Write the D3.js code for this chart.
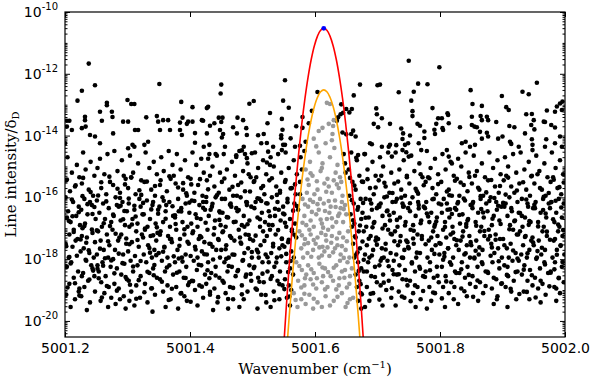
<!DOCTYPE html>
<html lang="en">
<head>
<meta charset="utf-8">
<title>Line intensity vs wavenumber</title>
<script src="https://cdn.jsdelivr.net/npm/d3@7"></script>
<style>
body { margin: 0; background: #fff; }
text { font-family: "DejaVu Sans", sans-serif; }
.lbl { font-family: "DejaVu Serif", serif; }
</style>
</head>
<body>
<script>
// every line is [wavenumber (cm-1), log10(intensity / delta_D)]
// sparse strong lines
var strongLines = [
  [5001.238,-11.67],[5001.248,-12.37],[5001.227,-12.55],[5001.220,-12.87],[5001.351,-12.33],[5001.300,-12.85],
  [5001.306,-12.98],[5001.311,-12.98],[5001.267,-12.94],[5001.267,-13.02],[5001.256,-13.23],[5001.275,-13.23],
  [5001.276,-13.40],[5001.386,-12.91],[5001.404,-13.08],[5001.232,-13.39],[5001.232,-13.50],[5001.233,-13.71],
  [5001.203,-13.52],[5001.207,-13.52],[5001.259,-13.52],[5001.293,-13.55],[5001.301,-13.55],[5001.330,-13.41],
  [5001.347,-13.37],[5001.349,-13.55],[5001.357,-13.50],[5001.365,-13.50],[5001.388,-13.42],[5001.384,-13.58],
  [5001.397,-13.55],[5001.404,-13.55],[5001.203,-13.71],[5001.211,-13.82],[5001.227,-13.76],[5001.240,-13.98],
  [5001.248,-14.03],[5001.256,-14.25],[5001.277,-13.93],[5001.312,-13.82],[5001.317,-13.82],[5001.352,-13.82],
  [5001.368,-13.82],[5001.384,-13.82],[5001.387,-13.98],[5001.395,-13.62],[5001.200,-14.25],[5001.301,-14.41],
  [5001.308,-14.30],[5001.311,-14.36],[5001.327,-14.30],[5001.333,-14.20],
  [5001.552,-12.21],[5001.450,-12.35],[5001.449,-12.64],[5001.502,-12.88],[5001.495,-12.97],[5001.549,-12.87],
  [5001.558,-13.10],[5001.429,-13.07],[5001.427,-13.11],[5001.528,-13.27],[5001.419,-13.50],[5001.421,-13.52],
  [5001.446,-13.42],[5001.452,-13.42],[5001.450,-13.56],[5001.476,-13.42],[5001.485,-13.50],[5001.547,-13.46],
  [5001.432,-13.68],[5001.439,-13.60],[5001.524,-13.60],[5001.469,-13.73],[5001.490,-13.76],[5001.448,-13.82],
  [5001.453,-13.95],[5001.451,-14.06],[5001.456,-14.36],[5001.570,-13.70],[5001.548,-13.81],[5001.427,-13.93],
  [5001.475,-13.93],[5001.491,-13.98],[5001.509,-13.99],[5001.518,-13.95],[5001.546,-13.99],[5001.546,-14.09],
  [5001.561,-14.09],[5001.408,-13.92],[5001.408,-14.23],[5001.422,-14.36],[5001.431,-14.30],[5001.441,-14.60],
  [5001.431,-14.60],[5001.486,-14.36],[5001.483,-14.48],[5001.488,-14.60],[5001.491,-14.73],[5001.499,-14.57],
  [5001.474,-14.64],[5001.474,-14.69],[5001.514,-14.25],[5001.523,-14.24],[5001.533,-14.36],[5001.525,-14.52],
  [5001.523,-14.87],[5001.528,-14.95],[5001.549,-14.30],[5001.552,-14.30],[5001.547,-14.47],[5001.568,-14.36],
  [5001.576,-14.33],[5001.580,-13.40],[5001.580,-13.75],[5001.604,-12.59],[5001.637,-13.41],[5001.635,-13.52],
  [5001.750,-11.58],[5001.799,-11.79],[5001.672,-12.35],[5001.700,-12.37],[5001.704,-12.35],[5001.765,-12.32],
  [5001.780,-12.34],[5001.734,-12.60],[5001.758,-12.58],[5001.662,-12.70],[5001.754,-12.87],[5001.698,-13.12],
  [5001.699,-13.31],[5001.707,-13.44],[5001.694,-13.62],[5001.701,-13.73],[5001.720,-13.62],[5001.756,-13.21],
  [5001.756,-13.37],[5001.764,-13.62],[5001.768,-13.68],[5001.788,-13.11],[5001.797,-13.44],[5001.803,-13.44],
  [5001.794,-13.62],[5001.804,-13.76],[5001.805,-13.82],[5001.812,-13.28],[5001.738,-13.77],[5001.741,-13.93],
  [5001.752,-14.00],[5001.775,-13.87],[5001.775,-14.08],[5001.791,-13.81],[5001.792,-13.95],[5001.642,-12.99],
  [5001.650,-13.14],[5001.659,-13.14],[5001.655,-13.25],[5001.645,-13.26],[5001.641,-13.31],[5001.650,-13.96],
  [5001.658,-13.95],[5001.661,-13.84],[5001.665,-14.03],[5001.688,-14.25],[5001.691,-14.28],[5001.680,-14.60],
  [5001.669,-14.63],[5001.666,-14.72],[5001.707,-14.36],[5001.720,-14.30],[5001.718,-14.36],[5001.730,-14.31],
  [5001.740,-14.11],[5001.749,-14.25],[5001.744,-14.30],[5001.723,-14.68],[5001.740,-14.47],[5001.746,-14.54],
  [5001.750,-14.68],[5001.766,-14.25],[5001.770,-14.47],
  [5001.955,-12.29],[5001.849,-12.53],[5001.932,-12.58],[5001.942,-12.66],[5001.899,-12.72],[5001.852,-12.98],
  [5001.867,-13.04],[5001.906,-13.08],[5001.910,-13.17],[5001.992,-12.96],[5001.996,-12.90],[5001.987,-13.06],
  [5001.984,-13.23],[5001.995,-13.17],[5001.971,-13.19],[5001.938,-13.31],[5001.947,-13.30],[5001.851,-13.39],
  [5001.865,-13.37],[5001.875,-13.39],[5001.877,-13.50],[5001.867,-13.50],[5001.813,-13.33],[5001.814,-13.60],
  [5001.890,-13.56],[5001.950,-13.50],[5001.966,-13.55],[5001.968,-13.56],[5001.911,-13.69],[5001.919,-13.73],
  [5001.832,-13.73],[5001.851,-13.66],[5001.855,-13.71],[5001.859,-13.73],[5001.946,-13.66],[5001.951,-13.80],
  [5001.978,-13.66],[5001.984,-13.74],[5001.864,-13.88],[5001.875,-13.91],[5001.877,-14.03],[5001.893,-14.10],
  [5001.900,-14.03],[5001.936,-13.93],[5001.947,-14.12],[5001.992,-14.03],[5001.970,-14.12],[5001.835,-14.25],
  [5001.841,-14.20],[5001.848,-14.36],[5001.856,-14.30],[5001.867,-14.10],[5001.912,-14.20],[5001.914,-14.27],
  [5001.926,-14.36],[5001.948,-14.30],[5001.948,-14.47],[5001.984,-14.25],[5001.995,-14.36],[5001.968,-14.36],
  [5001.811,-14.47],[5001.814,-14.68],[5001.819,-14.90]
];

// the crowded weak lines, strip by strip
var weakLines = [
  [5001.204,-14.7],[5001.219,-14.95],[5001.211,-15.2],[5001.202,-15.45],[5001.223,-15.35],[5001.208,-15.8],[5001.216,-15.65],[5001.201,-16.0],[5001.213,-16.15],[5001.222,-16.3],[5001.205,-16.45],[5001.218,-16.6],[5001.209,-16.8],[5001.224,-16.9],[5001.203,-16.65],[5001.214,-17.05],[5001.207,-17.2],[5001.220,-17.35],[5001.201,-17.5],[5001.212,-17.6],[5001.225,-17.75],[5001.206,-17.95],[5001.217,-17.4],[5001.210,-18.1],[5001.203,-18.25],[5001.221,-18.4],[5001.214,-18.6],[5001.207,-18.8],[5001.223,-18.95],[5001.202,-19.15],[5001.216,-19.3],[5001.209,-19.55],[5001.222,-19.05],
  [5001.229,-14.55],[5001.241,-14.85],[5001.233,-15.1],[5001.247,-15.3],[5001.227,-15.55],[5001.238,-15.75],[5001.245,-15.95],[5001.231,-16.05],[5001.243,-16.25],[5001.226,-16.4],[5001.236,-16.55],[5001.249,-16.7],[5001.232,-16.85],[5001.240,-16.15],[5001.228,-17.0],[5001.244,-17.15],[5001.235,-17.3],[5001.248,-17.45],[5001.230,-17.65],[5001.239,-17.8],[5001.246,-17.95],[5001.227,-17.25],[5001.234,-18.05],[5001.242,-18.2],[5001.229,-18.45],[5001.247,-18.55],[5001.237,-18.7],[5001.231,-18.9],[5001.244,-18.3],[5001.226,-19.2],[5001.240,-19.4],[5001.235,-19.65],
  [5001.256,-14.75],[5001.268,-14.6],[5001.252,-15.05],[5001.263,-15.25],[5001.272,-15.5],[5001.258,-15.7],[5001.266,-15.9],[5001.251,-16.1],[5001.261,-16.2],[5001.270,-16.35],[5001.255,-16.5],[5001.264,-16.7],[5001.274,-16.8],[5001.259,-16.95],[5001.253,-17.1],[5001.267,-17.2],[5001.257,-17.4],[5001.271,-17.55],[5001.262,-17.7],[5001.251,-17.85],[5001.269,-17.95],[5001.260,-18.1],[5001.273,-18.25],[5001.254,-18.4],[5001.265,-18.55],[5001.258,-18.75],[5001.270,-18.9],[5001.252,-18.2],[5001.263,-19.1],[5001.257,-19.35],[5001.269,-19.55],[5001.274,-19.25],
  [5001.279,-14.5],[5001.291,-14.8],[5001.284,-15.15],[5001.297,-15.4],[5001.277,-15.6],[5001.288,-15.85],[5001.294,-15.3],[5001.281,-16.0],[5001.292,-16.15],[5001.286,-16.3],[5001.299,-16.45],[5001.278,-16.6],[5001.289,-16.75],[5001.296,-16.9],[5001.283,-16.25],[5001.276,-17.05],[5001.290,-17.2],[5001.285,-17.4],[5001.298,-17.5],[5001.280,-17.7],[5001.293,-17.85],[5001.287,-17.3],[5001.277,-18.0],[5001.295,-18.15],[5001.283,-18.3],[5001.290,-18.5],[5001.299,-18.65],[5001.279,-18.8],[5001.286,-18.95],[5001.294,-19.2],[5001.281,-19.45],[5001.297,-19.6],[5001.288,-19.3],
  [5001.304,-14.65],[5001.317,-14.9],[5001.309,-15.2],[5001.322,-15.45],[5001.301,-15.7],[5001.313,-15.9],[5001.306,-15.35],[5001.319,-16.05],[5001.302,-16.2],[5001.311,-16.4],[5001.324,-16.55],[5001.308,-16.7],[5001.316,-16.85],[5001.321,-16.3],[5001.303,-16.95],[5001.314,-17.1],[5001.325,-17.3],[5001.307,-17.45],[5001.318,-17.6],[5001.301,-17.75],[5001.312,-17.9],[5001.323,-17.2],[5001.305,-18.05],[5001.316,-18.2],[5001.309,-18.4],[5001.321,-18.55],[5001.302,-18.7],[5001.314,-18.85],[5001.306,-19.05],[5001.320,-19.25],[5001.311,-19.5],[5001.303,-19.35],
  [5001.329,-14.55],[5001.342,-14.85],[5001.335,-15.05],[5001.347,-15.25],[5001.327,-15.5],[5001.338,-15.75],[5001.344,-15.95],[5001.331,-16.1],[5001.340,-16.25],[5001.349,-16.4],[5001.326,-16.55],[5001.336,-16.7],[5001.345,-16.85],[5001.332,-16.95],[5001.341,-16.15],[5001.328,-17.05],[5001.337,-17.25],[5001.346,-17.4],[5001.333,-17.55],[5001.343,-17.7],[5001.326,-17.85],[5001.339,-17.95],[5001.348,-17.15],[5001.330,-18.1],[5001.341,-18.3],[5001.335,-18.45],[5001.347,-18.6],[5001.328,-18.8],[5001.338,-18.95],[5001.344,-19.15],[5001.332,-19.4],[5001.340,-19.7],
  [5001.354,-14.7],[5001.366,-14.5],[5001.372,-14.95],[5001.358,-15.15],[5001.369,-15.4],[5001.352,-15.6],[5001.363,-15.8],[5001.374,-15.3],[5001.356,-16.0],[5001.367,-16.15],[5001.351,-16.3],[5001.361,-16.45],[5001.373,-16.6],[5001.357,-16.8],[5001.368,-16.95],[5001.362,-16.25],[5001.353,-17.1],[5001.365,-17.25],[5001.371,-17.45],[5001.359,-17.6],[5001.350,-17.8],[5001.364,-17.95],[5001.370,-17.35],[5001.355,-18.05],[5001.367,-18.2],[5001.360,-18.4],[5001.373,-18.5],[5001.352,-18.65],[5001.364,-18.85],[5001.357,-19.05],[5001.369,-19.3],[5001.361,-19.55],
  [5001.379,-14.6],[5001.392,-14.8],[5001.385,-15.1],[5001.397,-15.35],[5001.377,-15.55],[5001.389,-15.75],[5001.395,-15.95],[5001.381,-16.05],[5001.393,-16.2],[5001.386,-16.35],[5001.399,-16.5],[5001.376,-16.65],[5001.388,-16.8],[5001.396,-16.95],[5001.382,-16.45],[5001.378,-17.05],[5001.391,-17.2],[5001.384,-17.35],[5001.398,-17.5],[5001.380,-17.7],[5001.393,-17.85],[5001.387,-17.95],[5001.376,-18.1],[5001.394,-18.25],[5001.383,-18.4],[5001.390,-18.6],[5001.399,-18.75],[5001.378,-18.9],[5001.386,-19.1],[5001.395,-19.35],[5001.381,-19.6],[5001.391,-19.2],
  [5001.404,-14.55],[5001.418,-14.75],[5001.410,-14.95],[5001.422,-15.2],[5001.401,-15.4],[5001.413,-15.6],[5001.407,-15.85],[5001.420,-15.95],[5001.403,-16.1],[5001.415,-16.25],[5001.424,-16.4],[5001.409,-16.55],[5001.417,-16.7],[5001.402,-16.85],[5001.412,-16.95],[5001.421,-16.15],[5001.405,-17.1],[5001.416,-17.25],[5001.423,-17.45],[5001.408,-17.6],[5001.419,-17.75],[5001.401,-17.9],[5001.414,-17.35],[5001.406,-18.05],[5001.418,-18.2],[5001.411,-18.35],[5001.424,-18.5],[5001.403,-18.7],[5001.415,-18.85],[5001.408,-19.0],[5001.421,-19.25],[5001.412,-19.5],
  [5001.429,-14.75],[5001.443,-14.65],[5001.436,-15.0],[5001.448,-15.2],[5001.427,-15.45],[5001.439,-15.65],[5001.446,-15.85],[5001.432,-15.3],[5001.441,-16.0],[5001.426,-16.15],[5001.435,-16.3],[5001.447,-16.45],[5001.430,-16.6],[5001.440,-16.75],[5001.449,-16.9],[5001.433,-16.4],[5001.428,-17.05],[5001.438,-17.2],[5001.445,-17.35],[5001.431,-17.5],[5001.442,-17.7],[5001.427,-17.85],[5001.448,-17.95],[5001.436,-17.6],[5001.429,-18.1],[5001.441,-18.25],[5001.434,-18.45],[5001.447,-18.6],[5001.426,-18.8],[5001.439,-18.95],[5001.432,-19.15],[5001.444,-19.4],[5001.437,-19.65],
  [5001.454,-14.6],[5001.467,-14.85],[5001.459,-15.1],[5001.472,-15.3],[5001.451,-15.5],[5001.463,-15.75],[5001.469,-15.95],[5001.456,-16.05],[5001.465,-16.2],[5001.474,-16.35],[5001.452,-16.5],[5001.461,-16.65],[5001.470,-16.8],[5001.457,-16.95],[5001.466,-16.3],[5001.453,-17.1],[5001.464,-17.25],[5001.471,-17.4],[5001.458,-17.55],[5001.450,-17.7],[5001.468,-17.85],[5001.462,-17.95],[5001.455,-18.1],[5001.467,-18.25],[5001.460,-18.4],[5001.473,-18.55],[5001.452,-18.7],[5001.464,-18.9],[5001.457,-19.1],[5001.469,-19.3],[5001.461,-19.6],
  [5001.479,-14.5],[5001.492,-14.9],[5001.485,-15.15],[5001.497,-15.35],[5001.477,-15.6],[5001.488,-15.8],[5001.494,-15.25],[5001.481,-16.0],[5001.490,-16.15],[5001.498,-16.3],[5001.476,-16.45],[5001.486,-16.6],[5001.495,-16.75],[5001.483,-16.9],[5001.491,-16.25],[5001.478,-17.05],[5001.489,-17.2],[5001.496,-17.35],[5001.482,-17.5],[5001.493,-17.65],[5001.487,-17.8],[5001.499,-17.95],[5001.480,-17.3],[5001.484,-18.05],[5001.495,-18.2],[5001.477,-18.35],[5001.490,-18.5],[5001.498,-18.7],[5001.483,-18.85],[5001.492,-19.05],[5001.486,-19.3],[5001.479,-19.55],
  [5001.504,-14.55],[5001.517,-14.8],[5001.509,-15.05],[5001.522,-15.25],[5001.502,-15.5],[5001.514,-15.7],[5001.519,-15.9],[5001.506,-15.35],[5001.511,-16.05],[5001.524,-16.2],[5001.503,-16.35],[5001.515,-16.5],[5001.508,-16.65],[5001.520,-16.8],[5001.512,-16.95],[5001.505,-16.15],[5001.517,-17.1],[5001.523,-17.25],[5001.501,-17.4],[5001.513,-17.55],[5001.507,-17.7],[5001.521,-17.85],[5001.510,-17.95],[5001.516,-18.1],[5001.503,-18.25],[5001.524,-18.4],[5001.509,-18.6],[5001.518,-18.75],[5001.505,-18.95],[5001.514,-19.15],[5001.522,-19.4],[5001.508,-19.6],
  [5001.529,-14.7],[5001.541,-14.6],[5001.534,-15.0],[5001.546,-15.2],[5001.527,-15.45],[5001.538,-15.65],[5001.544,-15.85],[5001.531,-16.0],[5001.540,-16.15],[5001.549,-16.3],[5001.526,-16.45],[5001.536,-16.6],[5001.545,-16.75],[5001.532,-16.9],[5001.542,-16.4],[5001.528,-17.05],[5001.537,-17.2],[5001.547,-17.35],[5001.533,-17.5],[5001.543,-17.65],[5001.530,-17.8],[5001.539,-17.95],[5001.548,-17.55],[5001.526,-18.1],[5001.535,-18.25],[5001.544,-18.4],[5001.531,-18.55],[5001.540,-18.7],[5001.548,-18.85],[5001.534,-19.05],[5001.543,-19.3],[5001.529,-19.55],
  [5001.553,-14.55],[5001.566,-14.8],[5001.558,-15.05],[5001.571,-15.25],[5001.552,-15.5],[5001.563,-15.7],[5001.569,-15.9],[5001.556,-16.05],[5001.567,-16.2],[5001.573,-16.4],[5001.551,-16.55],[5001.560,-16.7],[5001.568,-16.85],[5001.554,-16.95],[5001.563,-17.1],[5001.570,-17.3],[5001.557,-17.45],[5001.551,-17.6],[5001.562,-17.75],[5001.566,-17.95],[5001.554,-18.1],[5001.560,-18.3],[5001.565,-18.5],[5001.552,-18.65],[5001.558,-18.85],[5001.562,-19.0],[5001.555,-19.25],[5001.560,-19.5],
  [5001.577,-14.7],[5001.583,-14.5],[5001.579,-15.1],[5001.576,-15.5],[5001.576,-15.9],[5001.585,-14.2],[5001.590,-13.6],[5001.595,-13.2],
  [5001.646,-14.6],[5001.649,-15.2],[5001.644,-13.9],[5001.648,-14.9],
  [5001.658,-14.55],[5001.667,-14.8],[5001.654,-15.1],[5001.671,-15.3],[5001.660,-15.5],[5001.665,-15.75],[5001.655,-15.95],[5001.673,-16.05],[5001.662,-16.2],[5001.668,-16.4],[5001.657,-16.55],[5001.674,-16.7],[5001.663,-16.85],[5001.659,-16.95],[5001.670,-17.1],[5001.665,-17.3],[5001.661,-17.5],[5001.672,-17.65],[5001.666,-17.85],[5001.663,-17.95],[5001.669,-18.1],[5001.674,-18.3],[5001.665,-18.5],[5001.671,-18.7],[5001.667,-18.9],[5001.673,-19.1],[5001.669,-19.35],[5001.674,-19.6],
  [5001.679,-14.6],[5001.692,-14.85],[5001.684,-15.1],[5001.697,-15.3],[5001.677,-15.5],[5001.688,-15.7],[5001.694,-15.9],[5001.681,-16.05],[5001.690,-16.2],[5001.699,-16.35],[5001.676,-16.5],[5001.686,-16.65],[5001.695,-16.8],[5001.682,-16.95],[5001.691,-16.4],[5001.678,-17.1],[5001.689,-17.25],[5001.697,-17.4],[5001.683,-17.55],[5001.693,-17.7],[5001.680,-17.85],[5001.687,-17.95],[5001.698,-17.3],[5001.685,-18.1],[5001.696,-18.25],[5001.678,-18.4],[5001.690,-18.55],[5001.699,-18.75],[5001.683,-18.9],[5001.693,-19.1],[5001.687,-19.35],[5001.680,-19.55],
  [5001.704,-14.7],[5001.717,-14.55],[5001.709,-15.0],[5001.722,-15.2],[5001.702,-15.45],[5001.713,-15.65],[5001.719,-15.85],[5001.706,-15.3],[5001.711,-16.0],[5001.724,-16.15],[5001.703,-16.3],[5001.715,-16.45],[5001.708,-16.6],[5001.720,-16.75],[5001.712,-16.9],[5001.705,-16.2],[5001.717,-17.05],[5001.723,-17.2],[5001.701,-17.35],[5001.713,-17.5],[5001.707,-17.65],[5001.721,-17.8],[5001.710,-17.95],[5001.716,-18.05],[5001.703,-18.2],[5001.724,-18.35],[5001.709,-18.5],[5001.718,-18.7],[5001.705,-18.85],[5001.714,-19.0],[5001.722,-19.25],[5001.708,-19.5],
  [5001.729,-14.55],[5001.742,-14.8],[5001.735,-15.1],[5001.747,-15.3],[5001.727,-15.55],[5001.738,-15.75],[5001.744,-15.95],[5001.731,-16.05],[5001.740,-16.2],[5001.749,-16.35],[5001.726,-16.5],[5001.736,-16.65],[5001.745,-16.8],[5001.732,-16.95],[5001.741,-16.3],[5001.728,-17.1],[5001.737,-17.25],[5001.746,-17.4],[5001.733,-17.55],[5001.743,-17.7],[5001.730,-17.85],[5001.739,-17.95],[5001.748,-17.45],[5001.726,-18.05],[5001.735,-18.2],[5001.744,-18.35],[5001.731,-18.5],[5001.740,-18.65],[5001.748,-18.85],[5001.734,-19.05],[5001.743,-19.25],[5001.729,-19.5],
  [5001.754,-14.65],[5001.767,-14.9],[5001.759,-15.15],[5001.772,-15.35],[5001.751,-15.55],[5001.763,-15.8],[5001.769,-15.25],[5001.756,-16.0],[5001.765,-16.15],[5001.774,-16.3],[5001.752,-16.45],[5001.761,-16.6],[5001.770,-16.75],[5001.757,-16.9],[5001.766,-16.25],[5001.753,-17.05],[5001.764,-17.2],[5001.771,-17.35],[5001.758,-17.5],[5001.750,-17.65],[5001.768,-17.8],[5001.762,-17.95],[5001.755,-18.1],[5001.767,-18.25],[5001.760,-18.4],[5001.773,-18.55],[5001.752,-18.7],[5001.764,-18.9],[5001.757,-19.1],[5001.769,-19.3],[5001.761,-19.55],
  [5001.779,-14.5],[5001.792,-14.75],[5001.785,-15.05],[5001.797,-15.25],[5001.777,-15.5],[5001.788,-15.7],[5001.794,-15.9],[5001.781,-15.35],[5001.790,-16.05],[5001.798,-16.2],[5001.776,-16.35],[5001.786,-16.5],[5001.795,-16.65],[5001.783,-16.8],[5001.791,-16.95],[5001.778,-16.15],[5001.789,-17.1],[5001.796,-17.25],[5001.782,-17.4],[5001.793,-17.55],[5001.787,-17.7],[5001.799,-17.85],[5001.780,-17.95],[5001.784,-18.1],[5001.795,-18.25],[5001.777,-18.4],[5001.790,-18.6],[5001.798,-18.75],[5001.783,-18.9],[5001.792,-19.1],[5001.786,-19.35],[5001.779,-19.6],
  [5001.804,-14.6],[5001.817,-14.85],[5001.809,-15.1],[5001.822,-15.3],[5001.802,-15.5],[5001.814,-15.75],[5001.819,-15.95],[5001.806,-16.05],[5001.811,-16.2],[5001.824,-16.35],[5001.803,-16.5],[5001.815,-16.65],[5001.808,-16.8],[5001.820,-16.95],[5001.812,-16.4],[5001.805,-17.05],[5001.817,-17.2],[5001.823,-17.35],[5001.801,-17.5],[5001.813,-17.65],[5001.807,-17.8],[5001.821,-17.95],[5001.810,-17.3],[5001.816,-18.1],[5001.803,-18.25],[5001.824,-18.4],[5001.809,-18.55],[5001.818,-18.75],[5001.805,-18.9],[5001.814,-19.1],[5001.822,-19.3],[5001.808,-19.55],
  [5001.829,-14.75],[5001.841,-14.55],[5001.834,-15.0],[5001.846,-15.2],[5001.827,-15.4],[5001.838,-15.6],[5001.844,-15.8],[5001.831,-15.95],[5001.840,-16.1],[5001.849,-16.25],[5001.826,-16.4],[5001.836,-16.55],[5001.845,-16.7],[5001.832,-16.85],[5001.842,-16.95],[5001.828,-16.2],[5001.837,-17.1],[5001.847,-17.25],[5001.833,-17.4],[5001.843,-17.55],[5001.830,-17.7],[5001.839,-17.85],[5001.848,-17.95],[5001.826,-17.55],[5001.835,-18.1],[5001.844,-18.25],[5001.831,-18.45],[5001.840,-18.6],[5001.848,-18.8],[5001.834,-18.95],[5001.843,-19.2],[5001.829,-19.45],
  [5001.854,-14.65],[5001.867,-14.9],[5001.859,-15.15],[5001.872,-15.35],[5001.851,-15.55],[5001.863,-15.75],[5001.869,-15.95],[5001.856,-15.3],[5001.865,-16.05],[5001.874,-16.2],[5001.852,-16.35],[5001.861,-16.5],[5001.870,-16.65],[5001.857,-16.8],[5001.866,-16.95],[5001.853,-16.15],[5001.864,-17.1],[5001.871,-17.25],[5001.858,-17.4],[5001.850,-17.55],[5001.868,-17.7],[5001.862,-17.85],[5001.855,-17.95],[5001.867,-18.1],[5001.860,-18.25],[5001.873,-18.4],[5001.852,-18.55],[5001.864,-18.75],[5001.857,-18.9],[5001.869,-19.1],[5001.861,-19.35],
  [5001.879,-14.55],[5001.892,-14.8],[5001.885,-15.05],[5001.897,-15.25],[5001.877,-15.45],[5001.888,-15.65],[5001.894,-15.85],[5001.881,-16.0],[5001.890,-16.15],[5001.898,-16.3],[5001.876,-16.45],[5001.886,-16.6],[5001.895,-16.75],[5001.883,-16.9],[5001.891,-16.4],[5001.878,-17.05],[5001.889,-17.2],[5001.896,-17.35],[5001.882,-17.5],[5001.893,-17.65],[5001.887,-17.8],[5001.899,-17.95],[5001.880,-17.25],[5001.884,-18.1],[5001.895,-18.3],[5001.877,-18.45],[5001.890,-18.65],[5001.898,-18.8],[5001.883,-18.95],[5001.892,-19.2],[5001.886,-19.45],
  [5001.904,-14.7],[5001.917,-14.6],[5001.909,-15.0],[5001.922,-15.2],[5001.902,-15.45],[5001.914,-15.65],[5001.919,-15.85],[5001.906,-15.3],[5001.911,-16.0],[5001.924,-16.15],[5001.903,-16.3],[5001.915,-16.45],[5001.908,-16.6],[5001.920,-16.75],[5001.912,-16.9],[5001.905,-16.2],[5001.917,-17.05],[5001.923,-17.2],[5001.901,-17.35],[5001.913,-17.5],[5001.907,-17.65],[5001.921,-17.8],[5001.910,-17.95],[5001.916,-18.05],[5001.903,-18.2],[5001.924,-18.4],[5001.909,-18.55],[5001.918,-18.7],[5001.905,-18.9],[5001.914,-19.05],[5001.922,-19.3],[5001.908,-19.55],
  [5001.929,-14.55],[5001.942,-14.85],[5001.935,-15.1],[5001.947,-15.3],[5001.927,-15.55],[5001.938,-15.75],[5001.944,-15.95],[5001.931,-16.05],[5001.940,-16.2],[5001.949,-16.35],[5001.926,-16.5],[5001.936,-16.65],[5001.945,-16.8],[5001.932,-16.95],[5001.941,-16.3],[5001.928,-17.1],[5001.937,-17.25],[5001.946,-17.4],[5001.933,-17.55],[5001.943,-17.7],[5001.930,-17.85],[5001.939,-17.95],[5001.948,-17.3],[5001.926,-18.05],[5001.935,-18.2],[5001.944,-18.35],[5001.931,-18.5],[5001.940,-18.7],[5001.948,-18.85],[5001.934,-19.05],[5001.943,-19.3],
  [5001.954,-14.65],[5001.967,-14.9],[5001.959,-15.15],[5001.972,-15.35],[5001.951,-15.55],[5001.963,-15.75],[5001.969,-15.95],[5001.956,-15.25],[5001.965,-16.05],[5001.974,-16.2],[5001.952,-16.35],[5001.961,-16.5],[5001.970,-16.65],[5001.957,-16.8],[5001.966,-16.95],[5001.953,-16.15],[5001.964,-17.1],[5001.971,-17.25],[5001.958,-17.4],[5001.950,-17.55],[5001.968,-17.7],[5001.962,-17.85],[5001.955,-17.95],[5001.967,-18.1],[5001.960,-18.3],[5001.973,-18.45],[5001.952,-18.6],[5001.964,-18.8],[5001.957,-18.95],[5001.969,-19.15],[5001.961,-19.4],
  [5001.979,-14.55],[5001.992,-14.8],[5001.985,-15.05],[5001.997,-15.25],[5001.977,-15.5],[5001.988,-15.7],[5001.994,-15.9],[5001.981,-15.35],[5001.990,-16.05],[5001.998,-16.2],[5001.976,-16.35],[5001.986,-16.5],[5001.995,-16.65],[5001.983,-16.8],[5001.991,-16.95],[5001.978,-16.15],[5001.989,-17.1],[5001.996,-17.25],[5001.982,-17.4],[5001.993,-17.55],[5001.987,-17.7],[5001.999,-17.85],[5001.980,-17.95],[5001.984,-18.1],[5001.995,-18.25],[5001.977,-18.4],[5001.990,-18.6],[5001.998,-18.75],[5001.983,-18.9],[5001.992,-19.1],[5001.986,-19.35]
];

// second pass over the crowded core of the band
var coreLines = [
  [5001.203,-15.42],[5001.217,-15.61],[5001.229,-15.37],[5001.241,-15.83],[5001.211,-16.07],[5001.236,-16.22],[5001.222,-16.48],[5001.247,-16.31],[5001.206,-16.76],[5001.231,-16.93],[5001.214,-17.12],[5001.243,-17.04],[5001.225,-17.36],[5001.202,-17.58],[5001.238,-17.71],[5001.219,-17.89],[5001.209,-18.14],[5001.233,-18.02],[5001.245,-18.37],[5001.227,-18.55],[5001.216,-18.78],[5001.204,-18.92],[5001.239,-18.66],[5001.223,-19.18],[5001.248,-19.05],[5001.212,-16.61],[5001.234,-17.47],[5001.228,-15.96],[5001.207,-17.93],[5001.244,-16.54],
  [5001.258,-15.51],[5001.271,-15.33],[5001.284,-15.72],[5001.296,-15.58],[5001.253,-15.94],[5001.266,-16.13],[5001.289,-16.27],[5001.277,-16.56],[5001.262,-16.84],[5001.293,-16.71],[5001.251,-17.07],[5001.281,-17.18],[5001.269,-17.42],[5001.298,-17.33],[5001.256,-17.66],[5001.286,-17.82],[5001.274,-18.04],[5001.261,-18.21],[5001.292,-18.13],[5001.279,-18.46],[5001.254,-18.62],[5001.297,-18.58],[5001.267,-18.87],[5001.283,-19.02],[5001.259,-19.24],[5001.288,-16.02],[5001.272,-16.93],[5001.264,-17.97],[5001.295,-16.44],[5001.252,-18.31],
  [5001.306,-15.36],[5001.319,-15.77],[5001.331,-15.49],[5001.344,-15.63],[5001.302,-16.04],[5001.325,-16.18],[5001.338,-16.39],[5001.313,-16.62],[5001.349,-16.53],[5001.307,-16.88],[5001.328,-17.01],[5001.341,-17.23],[5001.316,-17.38],[5001.303,-17.52],[5001.335,-17.64],[5001.346,-17.87],[5001.321,-18.06],[5001.309,-18.24],[5001.332,-18.41],[5001.343,-18.19],[5001.318,-18.68],[5001.304,-18.83],[5001.327,-19.07],[5001.339,-18.94],[5001.314,-19.28],[5001.347,-16.97],[5001.322,-15.92],[5001.336,-17.79],[5001.311,-16.27],[5001.342,-18.52],
  [5001.353,-15.45],[5001.367,-15.32],[5001.381,-15.68],[5001.394,-15.87],[5001.358,-16.11],[5001.372,-16.29],[5001.386,-16.46],[5001.399,-16.17],[5001.361,-16.69],[5001.377,-16.86],[5001.391,-17.03],[5001.352,-17.21],[5001.368,-17.35],[5001.383,-17.57],[5001.396,-17.44],[5001.357,-17.76],[5001.374,-17.91],[5001.388,-18.08],[5001.363,-18.27],[5001.379,-18.44],[5001.393,-18.61],[5001.355,-18.73],[5001.371,-18.96],[5001.385,-19.11],[5001.366,-19.32],[5001.397,-18.84],[5001.376,-16.58],[5001.389,-15.54],[5001.359,-17.62],[5001.382,-17.98],
  [5001.402,-15.58],[5001.416,-15.41],[5001.429,-15.74],[5001.443,-15.93],[5001.407,-16.12],[5001.421,-16.34],[5001.436,-16.21],[5001.448,-16.49],[5001.411,-16.67],[5001.425,-16.82],[5001.439,-16.99],[5001.404,-17.16],[5001.418,-17.29],[5001.433,-17.51],[5001.446,-17.38],[5001.409,-17.69],[5001.423,-17.84],[5001.437,-18.01],[5001.414,-18.18],[5001.428,-18.36],[5001.441,-18.53],[5001.405,-18.71],[5001.419,-18.89],[5001.432,-19.06],[5001.445,-19.23],[5001.426,-15.99],[5001.412,-17.95],[5001.447,-16.73],[5001.431,-18.62],[5001.401,-19.38],
  [5001.455,-15.39],[5001.468,-15.66],[5001.482,-15.52],[5001.496,-15.81],[5001.451,-16.05],[5001.464,-16.24],[5001.478,-16.41],[5001.491,-16.16],[5001.459,-16.64],[5001.473,-16.79],[5001.487,-16.95],[5001.452,-17.13],[5001.466,-17.31],[5001.481,-17.46],[5001.494,-17.22],[5001.457,-17.68],[5001.471,-17.86],[5001.485,-18.03],[5001.499,-17.77],[5001.462,-18.22],[5001.476,-18.39],[5001.489,-18.57],[5001.454,-18.76],[5001.469,-18.93],[5001.483,-19.14],[5001.497,-18.48],[5001.461,-19.29],[5001.475,-15.95],[5001.492,-16.87],[5001.458,-17.99],
  [5001.503,-15.47],[5001.517,-15.63],[5001.531,-15.38],[5001.544,-15.79],[5001.508,-16.03],[5001.522,-16.19],[5001.536,-16.37],[5001.549,-16.52],[5001.512,-16.71],[5001.526,-16.89],[5001.541,-17.06],[5001.505,-17.24],[5001.519,-17.41],[5001.533,-17.59],[5001.547,-17.33],[5001.509,-17.78],[5001.524,-17.94],[5001.538,-18.11],[5001.502,-18.29],[5001.516,-18.47],[5001.529,-18.64],[5001.543,-18.81],[5001.507,-18.99],[5001.521,-19.16],[5001.535,-19.33],[5001.514,-16.12],[5001.546,-17.91],[5001.528,-16.61],[5001.539,-15.92],[5001.511,-18.73],
  [5001.553,-15.44],[5001.561,-15.71],[5001.568,-15.58],[5001.556,-16.16],[5001.565,-16.43],[5001.571,-16.28],[5001.552,-16.82],[5001.563,-17.04],[5001.558,-17.37],[5001.567,-17.21],[5001.554,-17.83],[5001.561,-18.06],[5001.557,-18.42],[5001.551,-18.97],[5001.559,-19.21],
  [5001.656,-15.37],[5001.663,-15.62],[5001.675,-15.49],[5001.659,-16.09],[5001.669,-16.31],[5001.677,-16.18],[5001.661,-16.74],[5001.672,-16.91],[5001.664,-17.26],[5001.676,-17.43],[5001.668,-17.78],[5001.678,-18.02],[5001.670,-18.38],[5001.673,-18.81],[5001.675,-19.14],
  [5001.684,-15.41],[5001.697,-15.68],[5001.711,-15.53],[5001.724,-15.86],[5001.688,-16.08],[5001.702,-16.26],[5001.716,-16.43],[5001.729,-16.14],[5001.681,-16.66],[5001.694,-16.83],[5001.708,-17.01],[5001.721,-17.18],[5001.686,-17.34],[5001.699,-17.53],[5001.713,-17.69],[5001.727,-17.42],[5001.691,-17.88],[5001.705,-18.05],[5001.718,-18.23],[5001.683,-18.40],[5001.696,-18.58],[5001.710,-18.76],[5001.723,-18.94],[5001.689,-19.12],[5001.703,-19.31],[5001.715,-15.97],[5001.726,-18.49],[5001.692,-16.97],[5001.707,-17.97],[5001.719,-16.58],
  [5001.733,-15.49],[5001.747,-15.35],[5001.761,-15.72],[5001.774,-15.61],[5001.738,-16.01],[5001.752,-16.19],[5001.766,-16.36],[5001.779,-16.52],[5001.731,-16.73],[5001.744,-16.91],[5001.758,-17.08],[5001.771,-17.25],[5001.736,-17.43],[5001.749,-17.61],[5001.763,-17.79],[5001.777,-17.52],[5001.741,-17.96],[5001.755,-18.14],[5001.768,-18.31],[5001.734,-18.49],[5001.746,-18.67],[5001.760,-18.85],[5001.773,-19.03],[5001.739,-19.21],[5001.753,-19.36],[5001.765,-15.88],[5001.776,-18.58],[5001.742,-16.29],[5001.757,-17.33],[5001.769,-16.84],
  [5001.783,-15.38],[5001.797,-15.57],[5001.811,-15.81],[5001.824,-15.46],[5001.788,-16.06],[5001.802,-16.23],[5001.816,-16.39],[5001.829,-16.15],[5001.781,-16.62],[5001.794,-16.78],[5001.808,-16.96],[5001.821,-17.14],[5001.786,-17.30],[5001.799,-17.48],[5001.813,-17.65],[5001.827,-17.39],[5001.791,-17.83],[5001.805,-18.02],[5001.818,-18.18],[5001.784,-18.36],[5001.796,-18.54],[5001.810,-18.72],[5001.823,-18.90],[5001.789,-19.08],[5001.803,-19.27],[5001.815,-15.93],[5001.826,-18.45],[5001.792,-16.88],[5001.807,-17.92],[5001.819,-16.54],
  [5001.833,-15.52],[5001.847,-15.34],[5001.861,-15.69],[5001.874,-15.84],[5001.838,-16.04],[5001.852,-16.21],[5001.866,-16.38],[5001.879,-16.12],[5001.831,-16.57],[5001.844,-16.75],[5001.858,-16.92],[5001.871,-17.09],[5001.836,-17.27],[5001.849,-17.45],[5001.863,-17.62],[5001.877,-17.36],[5001.841,-17.81],[5001.855,-17.98],[5001.868,-18.16],[5001.834,-18.33],[5001.846,-18.51],[5001.860,-18.69],[5001.873,-18.87],[5001.839,-19.04],[5001.853,-19.22],[5001.865,-15.96],[5001.876,-18.41],[5001.842,-16.86],[5001.857,-17.73],[5001.869,-16.49],
  [5001.882,-15.44],[5001.896,-15.63],[5001.909,-15.36],[5001.923,-15.78],[5001.887,-16.02],[5001.901,-16.18],[5001.914,-16.35],[5001.928,-16.51],[5001.884,-16.69],[5001.897,-16.86],[5001.911,-17.03],[5001.925,-17.20],[5001.889,-17.37],[5001.903,-17.55],[5001.917,-17.72],[5001.881,-17.89],[5001.894,-18.07],[5001.908,-18.25],[5001.921,-18.42],[5001.886,-18.60],[5001.899,-18.78],[5001.913,-18.96],[5001.927,-19.13],[5001.891,-19.30],[5001.905,-15.91],[5001.919,-16.77],[5001.883,-17.62],[5001.907,-18.51],[5001.924,-17.98],[5001.893,-16.27],
  [5001.933,-15.51],[5001.946,-15.32],[5001.960,-15.70],[5001.974,-15.86],[5001.938,-16.07],[5001.951,-16.24],[5001.965,-16.41],[5001.978,-16.16],[5001.931,-16.60],[5001.943,-16.77],[5001.957,-16.94],[5001.971,-17.11],[5001.936,-17.28],[5001.949,-17.46],[5001.963,-17.63],[5001.976,-17.37],[5001.940,-17.81],[5001.954,-17.99],[5001.968,-18.17],[5001.934,-18.34],[5001.947,-18.52],[5001.961,-18.70],[5001.975,-18.88],[5001.939,-19.06],[5001.953,-19.24],[5001.966,-15.98],[5001.977,-18.44],[5001.942,-16.89],[5001.956,-17.74],[5001.969,-16.52],
  [5001.982,-15.43],[5001.991,-15.67],[5001.998,-15.52],[5001.985,-16.11],[5001.994,-16.33],[5001.981,-16.71],[5001.989,-16.88],[5001.997,-17.06],[5001.984,-17.35],[5001.993,-17.57],[5001.987,-17.86],[5001.996,-18.09],[5001.983,-18.33],[5001.990,-18.62],[5001.986,-18.95]
];

// lines lying under the orange profile (drawn grey)
var maskedLines = [
  [5001.619,-12.94],[5001.624,-12.98],[5001.630,-13.50],[5001.629,-13.69],[5001.606,-13.85],[5001.622,-13.62],[5001.628,-13.95],[5001.612,-13.75],
  [5001.598,-14.1],[5001.617,-14.25],[5001.631,-14.4],[5001.606,-14.55],[5001.624,-14.7],[5001.592,-14.85],[5001.612,-14.9],[5001.636,-14.95],[5001.602,-14.35],[5001.627,-14.15],
  [5001.585,-15.1],[5001.596,-15.3],[5001.609,-15.15],[5001.620,-15.4],[5001.633,-15.2],[5001.642,-15.5],[5001.590,-15.6],[5001.604,-15.75],[5001.615,-15.55],[5001.627,-15.85],[5001.638,-15.7],[5001.644,-15.95],[5001.599,-15.9],[5001.611,-15.05],[5001.587,-15.85],[5001.622,-15.65],[5001.640,-15.35],[5001.630,-15.45],
  [5001.593,-15.22],[5001.618,-15.82],[5001.603,-15.48],[5001.635,-15.58],[5001.588,-15.42],
  [5001.580,-16.05],[5001.589,-16.3],[5001.597,-16.15],[5001.606,-16.4],[5001.614,-16.2],[5001.623,-16.5],[5001.632,-16.1],[5001.641,-16.35],[5001.648,-16.25],[5001.583,-16.6],[5001.593,-16.75],[5001.602,-16.55],[5001.611,-16.85],[5001.619,-16.7],[5001.628,-16.95],[5001.637,-16.6],[5001.645,-16.8],[5001.650,-16.55],[5001.586,-16.9],[5001.608,-16.05],[5001.625,-16.3],[5001.643,-16.15],[5001.598,-16.95],[5001.634,-16.8],
  [5001.584,-16.23],[5001.595,-16.47],[5001.604,-16.22],[5001.616,-16.44],[5001.627,-16.68],[5001.639,-16.52],[5001.646,-16.38],[5001.592,-16.08],[5001.609,-16.72],[5001.622,-16.12],[5001.633,-16.31],[5001.580,-16.82],[5001.613,-16.98],
  [5001.575,-17.1],[5001.584,-17.35],[5001.593,-17.2],[5001.601,-17.5],[5001.610,-17.15],[5001.618,-17.4],[5001.627,-17.25],[5001.636,-17.55],[5001.645,-17.3],[5001.653,-17.1],[5001.578,-17.65],[5001.588,-17.8],[5001.597,-17.7],[5001.606,-17.95],[5001.615,-17.75],[5001.623,-17.9],[5001.632,-17.65],[5001.641,-17.85],[5001.649,-17.7],[5001.655,-17.95],[5001.581,-17.95],[5001.604,-17.3],[5001.621,-17.05],[5001.639,-17.15],[5001.612,-17.6],[5001.591,-17.05],
  [5001.579,-17.23],[5001.589,-17.48],[5001.598,-17.38],[5001.607,-17.62],[5001.617,-17.22],[5001.626,-17.47],[5001.635,-17.33],[5001.643,-17.58],[5001.651,-17.42],[5001.583,-17.52],[5001.594,-17.92],[5001.611,-17.88],[5001.629,-17.78],[5001.646,-17.96],[5001.620,-17.62],
  [5001.570,-18.1],[5001.579,-18.35],[5001.589,-18.2],[5001.598,-18.45],[5001.607,-18.15],[5001.616,-18.3],[5001.625,-18.55],[5001.634,-18.2],[5001.643,-18.4],[5001.652,-18.1],[5001.659,-18.3],[5001.573,-18.7],[5001.583,-18.85],[5001.593,-18.65],[5001.602,-18.95],[5001.611,-18.75],[5001.620,-18.9],[5001.629,-18.7],[5001.638,-18.85],[5001.647,-18.6],[5001.655,-18.8],[5001.586,-18.5],[5001.613,-18.55],[5001.640,-18.05],
  [5001.575,-18.22],[5001.584,-18.62],[5001.594,-18.33],[5001.603,-18.62],[5001.612,-18.27],[5001.621,-18.42],[5001.630,-18.28],[5001.639,-18.62],[5001.648,-18.35],[5001.656,-18.55],[5001.578,-18.92],[5001.597,-18.82],[5001.616,-18.98],[5001.634,-18.98],[5001.651,-18.92],
  [5001.566,-19.1],[5001.578,-19.3],[5001.591,-19.15],[5001.604,-19.4],[5001.617,-19.2],[5001.630,-19.35],[5001.643,-19.1],[5001.656,-19.3],[5001.572,-19.55],[5001.597,-19.6],[5001.624,-19.5],[5001.649,-19.55],[5001.661,-19.25],[5001.585,-19.45],
  [5001.569,-19.32],[5001.583,-19.12],[5001.598,-19.28],[5001.611,-19.55],[5001.636,-19.22],[5001.652,-19.42]
];

// line profiles (red: strongest line, orange: weaker profile)
var redProfile = [
  [5001.549,-21.13],[5001.554,-19.57],[5001.559,-18.12],[5001.564,-16.81],[5001.569,-15.61],[5001.574,-14.55],
  [5001.579,-13.60],[5001.584,-12.79],[5001.589,-12.10],[5001.594,-11.53],[5001.599,-11.09],[5001.604,-10.78],
  [5001.609,-10.59],[5001.614,-10.53],[5001.619,-10.59],[5001.624,-10.78],[5001.629,-11.09],[5001.634,-11.53],
  [5001.639,-12.10],[5001.644,-12.79],[5001.649,-13.60],[5001.654,-14.55],[5001.659,-15.61],[5001.664,-16.81],
  [5001.669,-18.12],[5001.674,-19.57],[5001.679,-21.13]
];
var orangeProfile = [
  [5001.554,-21.16],[5001.559,-19.78],[5001.564,-18.52],[5001.569,-17.38],[5001.574,-16.36],[5001.579,-15.46],
  [5001.584,-14.68],[5001.589,-14.02],[5001.594,-13.48],[5001.599,-13.06],[5001.604,-12.76],[5001.609,-12.58],
  [5001.614,-12.52],[5001.619,-12.58],[5001.624,-12.76],[5001.629,-13.06],[5001.634,-13.48],[5001.639,-14.02],
  [5001.644,-14.68],[5001.649,-15.46],[5001.654,-16.36],[5001.659,-17.38],[5001.664,-18.52],[5001.669,-19.78],
  [5001.674,-21.16]
];
var peakLine = [5001.614, -10.53];

var xTicks = [5001.2, 5001.4, 5001.6, 5001.8, 5002.0];
var yTickExps = [-10, -12, -14, -16, -18, -20];

var width = 598, height = 378;
var padL = 65, padR = 565, padT = 12, padB = 337;

var x = d3.scaleLinear().domain([5001.2, 5002.0]).range([padL, padR]);
var y = d3.scaleLog().domain([Math.pow(10, -20.52), 1e-10]).range([padB, padT]);
function pw(e) { return Math.pow(10, e); }

var svg = d3.select("body").append("svg")
    .attr("width", width)
    .attr("height", height)
    .style("display", "block");

svg.append("rect").attr("width", width).attr("height", height).attr("fill", "#fff");

svg.append("clipPath").attr("id", "plotclip")
  .append("rect")
    .attr("x", padL).attr("y", padT)
    .attr("width", padR - padL).attr("height", padB - padT);

var plot = svg.append("g").attr("clip-path", "url(#plotclip)");

function dots(data, colour) {
    plot.append("g")
      .selectAll("circle")
      .data(data)
      .enter()
      .append("circle")
        .attr("cx", function(d) { return x(d[0]); })
        .attr("cy", function(d) { return y(pw(d[1])); })
        .attr("r", 2.3)
        .attr("fill", colour);
}
dots(strongLines, "#000");
dots(weakLines, "#000");
dots(coreLines, "#000");
dots(maskedLines, "#999");

var line = d3.line()
    .x(function(d) { return x(d[0]); })
    .y(function(d) { return y(pw(d[1])); })
    .curve(d3.curveCatmullRom);

plot.append("path").datum(orangeProfile)
    .attr("d", line).attr("fill", "none")
    .attr("stroke", "orange").attr("stroke-width", 1.6);
plot.append("path").datum(redProfile)
    .attr("d", line).attr("fill", "none")
    .attr("stroke", "red").attr("stroke-width", 1.6);
plot.append("circle")
    .attr("cx", x(peakLine[0])).attr("cy", y(pw(peakLine[1])))
    .attr("r", 2.4).attr("fill", "blue");

// axes: ticks inside on all four sides
svg.append("g").attr("transform", "translate(0," + padB + ")")
    .call(d3.axisBottom(x).tickValues(xTicks).tickSizeInner(-5).tickSizeOuter(0)
        .tickPadding(6).tickFormat(d3.format(".1f")));
svg.append("g").attr("transform", "translate(0," + padT + ")")
    .call(d3.axisTop(x).tickValues(xTicks).tickSizeInner(-5).tickSizeOuter(0).tickFormat(""));

var yMinor = [];
for (var n = -21; n <= -11; n++) {
    for (var s = 1; s <= 9; s++) {
        var v = s * pw(n);
        if (v >= y.domain()[0] && v <= y.domain()[1] && !(s == 1 && yTickExps.indexOf(n) >= 0)) yMinor.push(v);
    }
}
var yMajor = yTickExps.map(pw);
svg.append("g").attr("transform", "translate(" + padL + ",0)")
    .call(d3.axisLeft(y).tickValues(yMajor).tickSizeInner(-5).tickSizeOuter(0).tickFormat(""));
svg.append("g").attr("transform", "translate(" + padL + ",0)")
    .call(d3.axisLeft(y).tickValues(yMinor).tickSizeInner(-2.5).tickSizeOuter(0).tickFormat(""));
svg.append("g").attr("transform", "translate(" + padR + ",0)")
    .call(d3.axisRight(y).tickValues(yMajor).tickSizeInner(-5).tickSizeOuter(0).tickFormat(""));
svg.append("g").attr("transform", "translate(" + padR + ",0)")
    .call(d3.axisRight(y).tickValues(yMinor).tickSizeInner(-2.5).tickSizeOuter(0).tickFormat(""));

svg.selectAll(".domain").remove();
svg.selectAll(".tick line").attr("stroke", "#000").attr("stroke-width", 1);
svg.selectAll(".tick text").attr("font-size", 14).attr("font-family", "DejaVu Sans").attr("fill", "#000");

svg.append("rect")
    .attr("x", padL).attr("y", padT)
    .attr("width", padR - padL).attr("height", padB - padT)
    .attr("fill", "none").attr("stroke", "#000").attr("stroke-width", 1.2);

// y tick labels 10^n
var ylab = svg.append("g").selectAll("text")
    .data(yTickExps)
    .enter()
    .append("text")
      .attr("x", 58)
      .attr("y", function(d) { return y(pw(d)) + 5; })
      .attr("text-anchor", "end")
      .attr("font-size", 14);
ylab.append("tspan").text("10");
ylab.append("tspan").attr("font-size", 10).attr("dy", -7).text(function(d) { return String(d); });

// axis titles
var xt = svg.append("text").attr("class", "lbl")
    .attr("x", (padL + padR) / 2).attr("y", 374)
    .attr("text-anchor", "middle").attr("font-size", 15);
xt.append("tspan").text("Wavenumber (cm");
xt.append("tspan").attr("font-size", 10).attr("dy", -6).text("\u22121");
xt.append("tspan").attr("dy", 6).text(")");

var yt = svg.append("text").attr("class", "lbl")
    .attr("transform", "translate(16," + ((padT + padB) / 2) + ") rotate(-90)")
    .attr("text-anchor", "middle").attr("font-size", 15);
yt.append("tspan").text("Line intensity/\u03b4");
yt.append("tspan").attr("font-size", 10).attr("dy", 3).text("D");
</script>
</body>
</html>
